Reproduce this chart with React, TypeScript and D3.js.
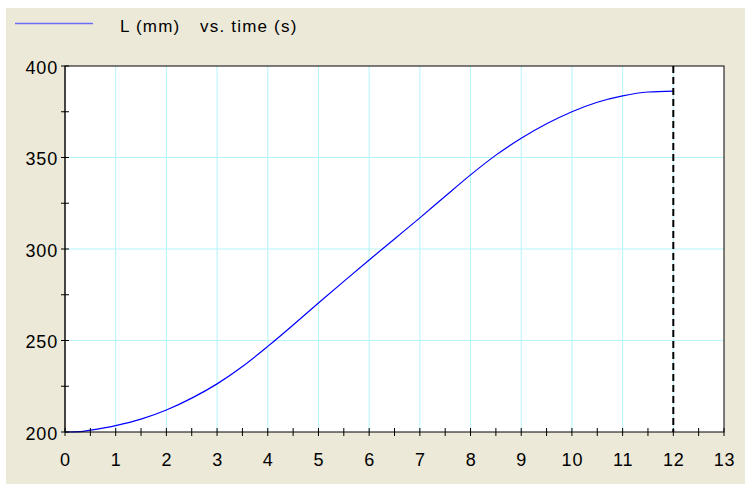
import React from "react";
import * as d3 from "d3";

const times = [0, 0.3, 0.5, 1, 1.5, 2, 2.5, 3, 3.5, 4, 4.5, 5, 5.5, 6, 6.5, 7, 7.5, 8, 8.5, 9, 9.5, 10, 10.5, 11, 11.5, 12];
const lengths = [200, 200.2, 201, 203.5, 207, 212, 218.5, 226.3, 235.8, 246.8, 258.5, 270.5, 282.3, 294, 305.5, 317, 328.8, 340.5, 351.3, 360.5, 368.4, 375, 380.2, 383.7, 385.8, 386.3];
const xTicks = [0, 1, 2, 3, 4, 5, 6, 7, 8, 9, 10, 11, 12, 13];
const xMinor = [0.5, 1.5, 2.5, 3.5, 4.5, 5.5, 6.5, 7.5, 8.5, 9.5, 10.5, 11.5, 12.5];
const yTicks = [200, 250, 300, 350, 400];
const yMinor = [225, 275, 325, 375];
const xGrid = [1, 2, 3, 4, 5, 6, 7, 8, 9, 10, 11, 12];
const yGrid = [250, 300, 350];
const markerTime = 12;
const legendLabel = "L (mm)";
const legendLabel2 = "vs. time (s)";

export default function App() {
  const W = 745, H = 484;
  const left = 65, right = 724, top = 66, bottom = 432;
  const x = d3.scaleLinear().domain([0, 13]).range([left, right]);
  const y = d3.scaleLinear().domain([200, 400]).range([bottom, top]);
  const data = times.map((t, i) => [t, lengths[i]] as [number, number]);
  const line = d3.line<[number, number]>().x(d => x(d[0])).y(d => y(d[1])).curve(d3.curveMonotoneX);
  const font = "Arial, 'Liberation Sans', sans-serif";
  return (
    <svg width={W} height={H} style={{ position: "absolute", left: 0, top: 0 }}>
      <rect x={0} y={0} width={W} height={H} fill="#ffffff" />
      <rect x={6} y={8} width={W - 6} height={H - 8} fill="#ECE9D8" />
      <rect x={left} y={top} width={right - left} height={bottom - top} fill="#ffffff" />
      {xGrid.map(g => (
        <line key={"xg" + g} x1={x(g)} x2={x(g)} y1={top} y2={bottom} stroke="#B4F4FA" strokeWidth={1} />
      ))}
      {yGrid.map(g => (
        <line key={"yg" + g} x1={left} x2={right} y1={y(g)} y2={y(g)} stroke="#B4F4FA" strokeWidth={1} />
      ))}
      <path d={line(data) || ""} fill="none" stroke="#0000FF" strokeWidth={1.2} />
      <line x1={x(markerTime)} x2={x(markerTime)} y1={top} y2={bottom} stroke="#000" strokeWidth={2} strokeDasharray="7,4" />
      <rect x={left} y={top} width={right - left} height={bottom - top} fill="none" stroke="#000" strokeWidth={1} />
      <line x1={left} x2={left} y1={top} y2={bottom} stroke="#333" strokeWidth={1.5} />
      {[...xTicks, ...xMinor].map(t => (
        <line key={"xt" + t} x1={x(t)} x2={x(t)} y1={bottom - 4} y2={bottom + 4} stroke="#000" strokeWidth={1} />
      ))}
      {[...yTicks, ...yMinor].map(t => (
        <line key={"yt" + t} x1={left - 4} x2={left + 4} y1={y(t)} y2={y(t)} stroke="#000" strokeWidth={1} />
      ))}
      {xTicks.map(t => (
        <text key={"xl" + t} x={x(t) + 0.5} y={466} textAnchor="middle" fontFamily={font} fontSize={18} letterSpacing={0.8} fill="#000">{t}</text>
      ))}
      {yTicks.map(t => (
        <text key={"yl" + t} x={58} y={y(t) + 7.5} textAnchor="end" fontFamily={font} fontSize={18} letterSpacing={0.8} fill="#000">{t}</text>
      ))}
      <line x1={15} x2={93} y1={23.5} y2={23.5} stroke="#6B6BF5" strokeWidth={1.5} />
      <text x={120} y={32} fontFamily={font} fontSize={17} letterSpacing={1.2} fill="#000">{legendLabel}</text>
      <text x={200} y={32} fontFamily={font} fontSize={17} letterSpacing={1.2} fill="#000">{legendLabel2}</text>
    </svg>
  );
}
